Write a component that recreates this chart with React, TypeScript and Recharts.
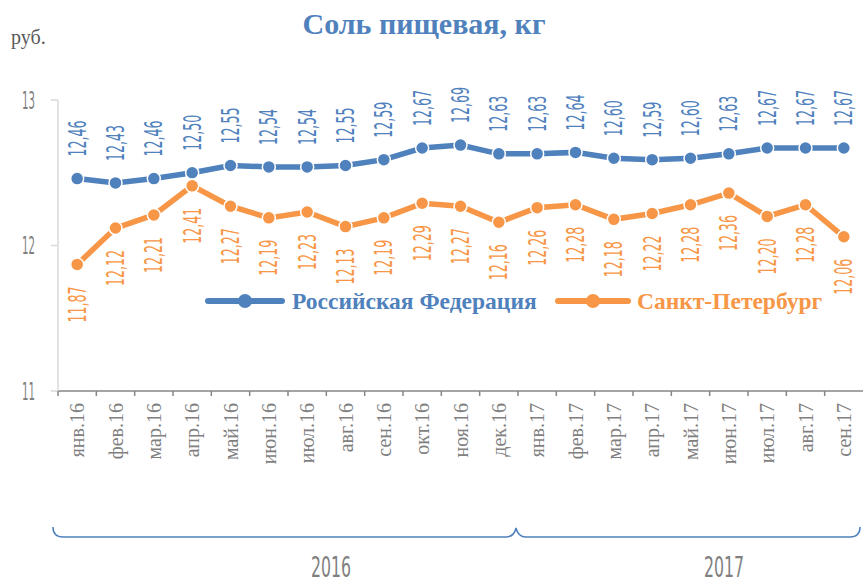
import React from 'react';
import { LineChart, Line, XAxis, YAxis, Legend, LabelList } from 'recharts';

const months = [
  'янв.16', 'фев.16', 'мар.16', 'апр.16', 'май.16', 'июн.16', 'июл.16', 'авг.16', 'сен.16', 'окт.16', 'ноя.16', 'дек.16',
  'янв.17', 'фев.17', 'мар.17', 'апр.17', 'май.17', 'июн.17', 'июл.17', 'авг.17', 'сен.17',
];
const russia = [12.46, 12.43, 12.46, 12.5, 12.55, 12.54, 12.54, 12.55, 12.59, 12.67, 12.69, 12.63, 12.63, 12.64, 12.6, 12.59, 12.6, 12.63, 12.67, 12.67, 12.67];
const spb = [11.87, 12.12, 12.21, 12.41, 12.27, 12.19, 12.23, 12.13, 12.19, 12.29, 12.27, 12.16, 12.26, 12.28, 12.18, 12.22, 12.28, 12.36, 12.2, 12.28, 12.06];
const yTicks = [11, 12, 13];
const years = ['2016', '2017'];

const data = months.map((m, i) => ({ month: m, rf: russia[i], spb: spb[i] }));

const W = 863;
const H = 585;
const LEFT = 58;
const TOP = 100;
const AXIS_Y = 392;
const band = (W - LEFT) / months.length;

const BLUE = '#4f81bd';
const ORANGE = '#f79646';
const GREY = '#7f7f7f';
const NARROW = "'Liberation Sans Narrow', 'DejaVu Sans Condensed', sans-serif";
const SERIF = "'Liberation Serif', 'Times New Roman', serif";

const fmt = (v: number) => v.toFixed(2).replace('.', ',');

const XTick = (props: any) => {
  const { x, y, payload } = props;
  const bx = x - band / 2;
  return (
    <g>
      <line x1={bx} x2={bx} y1={y} y2={y + 5} stroke="#868686" strokeWidth={1.5} />
      <text
        transform={`translate(${x},${y + 12}) rotate(-90)`}
        textAnchor="end"
        dominantBaseline="central"
        fontFamily={SERIF}
        fontSize={20}
        fill={GREY}
      >
        {payload.value}
      </text>
    </g>
  );
};

const YTick = (props: any) => {
  const { x, y, payload } = props;
  return (
    <text
      x={x}
      y={y}
      textAnchor="end"
      dominantBaseline="central"
      fontFamily={NARROW}
      fontSize={25}
      textLength={13}
      lengthAdjust="spacingAndGlyphs"
      fill={GREY}
    >
      {payload.value}
    </text>
  );
};

const makeLabel = (color: string, above: boolean) => (props: any) => {
  const { x, y, value } = props;
  const ty = above ? y - 22 : y + 22;
  return (
    <text
      transform={`translate(${x},${ty}) rotate(-90)`}
      textAnchor={above ? 'start' : 'end'}
      dominantBaseline="central"
      fontFamily={NARROW}
      fontSize={25}
      textLength={36}
      lengthAdjust="spacingAndGlyphs"
      fill={color}
    >
      {fmt(value)}
    </text>
  );
};

const LegendBox = () => {
  const item = (color: string, name: string, lineX: number, lineW: number, textX: number) => (
    <>
      <div style={{ position: 'absolute', left: lineX, top: -3, width: lineW, height: 6, background: color, borderRadius: 3 }} />
      <div style={{ position: 'absolute', left: lineX + lineW / 2 - 7, top: -7, width: 14, height: 14, background: color, borderRadius: 7 }} />
      <div style={{ position: 'absolute', left: textX, top: -15, color, fontFamily: SERIF, fontWeight: 'bold', fontSize: 23.5, whiteSpace: 'nowrap', lineHeight: '30px' }}>
        {name}
      </div>
    </>
  );
  return (
    <div style={{ position: 'relative', width: W, height: 1 }}>
      {item(BLUE, 'Российская Федерация', 205, 80, 292)}
      {item(ORANGE, 'Санкт-Петербург', 555, 76, 637)}
    </div>
  );
};

export default function App() {
  return (
    <div style={{ position: 'absolute', left: 0, top: 0, width: W, height: H, background: '#fff' }}>
      <LineChart width={W} height={H} data={data} margin={{ top: TOP, right: 0, bottom: 0, left: 0 }}>
        <XAxis
          dataKey="month"
          interval={0}
          height={H - AXIS_Y}
          padding={{ left: band / 2, right: band / 2 }}
          tickLine={false}
          tickSize={0}
          tickMargin={0}
          axisLine={{ stroke: '#868686', strokeWidth: 1.5 }}
          tick={<XTick />}
        />
        <YAxis
          width={LEFT}
          domain={[11, 13]}
          ticks={yTicks}
          axisLine={{ stroke: '#d9d9d9', strokeWidth: 1.5 }}
          tickLine={{ stroke: '#d9d9d9', strokeWidth: 1.5 }}
          tickSize={7}
          tickMargin={16}
          tick={<YTick />}
        />
        <Legend content={<LegendBox />} wrapperStyle={{ position: 'absolute', top: 301, left: 0 }} />
        <Line
          dataKey="rf"
          name="Российская Федерация"
          stroke={BLUE}
          strokeWidth={5.5}
          dot={{ r: 6.5, fill: BLUE, stroke: '#fff', strokeWidth: 1.5 }}
          isAnimationActive={false}
        >
          <LabelList dataKey="rf" content={makeLabel(BLUE, true)} />
        </Line>
        <Line
          dataKey="spb"
          name="Санкт-Петербург"
          stroke={ORANGE}
          strokeWidth={5.5}
          dot={{ r: 6.5, fill: ORANGE, stroke: '#fff', strokeWidth: 1.5 }}
          isAnimationActive={false}
        >
          <LabelList dataKey="spb" content={makeLabel(ORANGE, false)} />
        </Line>
      </LineChart>
      <svg width={W} height={H} style={{ position: 'absolute', left: 0, top: 0, pointerEvents: 'none' }}>
        <text x={424} y={34} textAnchor="middle" fontFamily={SERIF} fontWeight="bold" fontSize={30} fill={BLUE}>
          Соль пищевая, кг
        </text>
        <text x={11} y={44} fontFamily={SERIF} fontSize={20} fill="#595959">
          руб.
        </text>
        <path
          d="M53,527 Q53,537 63,537 L506,537 Q514,537 516,528 Q518,537 526,537 L850,537 Q860,537 860,527"
          fill="none"
          stroke={BLUE}
          strokeWidth={1.5}
        />
        <text x={331} y={567} textAnchor="middle" dominantBaseline="central" fontFamily={NARROW} fontSize={28} textLength={40} lengthAdjust="spacingAndGlyphs" fill={GREY}>
          {years[0]}
        </text>
        <text x={724} y={567} textAnchor="middle" dominantBaseline="central" fontFamily={NARROW} fontSize={28} textLength={40} lengthAdjust="spacingAndGlyphs" fill={GREY}>
          {years[1]}
        </text>
      </svg>
    </div>
  );
}
